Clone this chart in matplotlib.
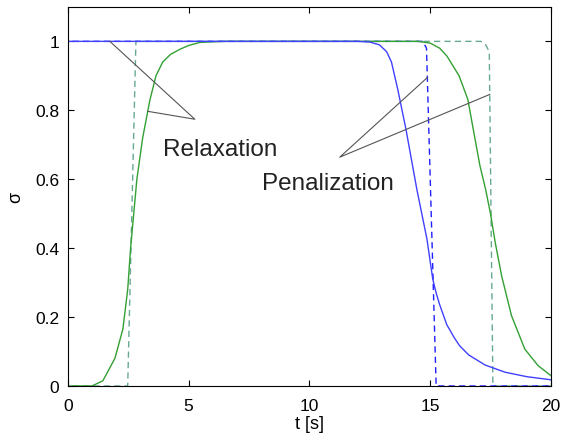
import numpy as np
import matplotlib
matplotlib.use("Agg")
import matplotlib.pyplot as plt

plt.rcParams['font.family'] = ['Liberation Sans', 'DejaVu Sans']

# relaxation (solid) curves
t_blue = [0, 12.0, 12.5, 12.9, 13.2, 13.4, 13.66, 14.0, 14.45, 14.87, 15.11,
          15.25, 15.4, 15.69, 16.0, 16.23, 16.6, 17.27, 18.1, 19.0, 20]
s_blue = [1, 1, 0.998, 0.99, 0.97, 0.94, 0.861, 0.745, 0.571, 0.426, 0.31,
          0.27, 0.235, 0.178, 0.14, 0.116, 0.09, 0.061, 0.04, 0.027, 0.018]

t_green = [0, 1.0, 1.45, 1.95, 2.28, 2.48, 2.6, 2.86, 3.1, 3.4, 3.65, 3.93,
           4.25, 4.64, 5.0, 5.47, 6.5, 14.5, 15.0, 15.4, 15.7, 16.2, 16.56,
           17.06, 17.3, 17.5, 17.7, 17.96, 18.37, 18.92, 19.47, 20]
s_green = [0, 0, 0.015, 0.08, 0.165, 0.28, 0.4, 0.6, 0.72, 0.83, 0.9, 0.94,
           0.962, 0.977, 0.988, 0.997, 1, 1, 0.995, 0.98, 0.957, 0.9, 0.832,
           0.64, 0.57, 0.5, 0.415, 0.32, 0.204, 0.107, 0.059, 0.03]

# penalization (dashed) curves
t_blue_d = [0, 0, 14.7, 14.85, 15.25, 20]
s_blue_d = [0.5, 1, 1, 0.98, 0, 0]

t_green_d = [0, 0, 2.48, 2.82, 17.1, 17.3, 17.45, 17.6, 20]
s_green_d = [0.5, 0, 0, 1, 1, 0.99, 0.97, 0, 0]

fig = plt.figure(figsize=(5.65, 4.39), dpi=100)
ax = fig.add_axes([0.12, 0.1185, 0.855, 0.8635])

ax.plot(t_green_d, s_green_d, color='#66aa90', lw=1, dashes=(4.5, 3))
ax.plot(t_blue_d, s_blue_d, color='#2020ff', lw=1, dashes=(4.5, 3))
ax.plot(t_green, s_green, '-', color='#33a033', lw=1)
ax.plot(t_blue, s_blue, '-', color='#4040ff', lw=1)

# annotation lines
ax.plot([1.74, 5.26, 3.31], [1.0, 0.774, 0.797], color='#555555', lw=0.8)
ax.plot([14.9, 11.26, 17.47], [0.896, 0.664, 0.846], color='#555555', lw=0.8)
ax.text(3.93, 0.687, 'Relaxation', fontsize=17.5, color='#222222',
        va='center', ha='left')
ax.text(8.03, 0.59, 'Penalization', fontsize=17.5, color='#222222',
        va='center', ha='left')

ax.set_xlim(0, 20)
ax.set_ylim(0, 1.1)
ax.set_xticks([0, 5, 10, 15, 20])
ax.set_yticks([0, 0.2, 0.4, 0.6, 0.8, 1])
ax.set_yticklabels(['0', '0.2', '0.4', '0.6', '0.8', '1'])
ax.tick_params(direction='in', labelsize=12.5, length=4, top=True, right=True)
ax.tick_params(axis='x', pad=9)
ax.tick_params(axis='y', pad=6)
ax.set_xlabel('t [s]', fontsize=13, labelpad=1)
ax.set_ylabel('σ', fontsize=13, labelpad=8)

fig.savefig('out.png', dpi=100)
